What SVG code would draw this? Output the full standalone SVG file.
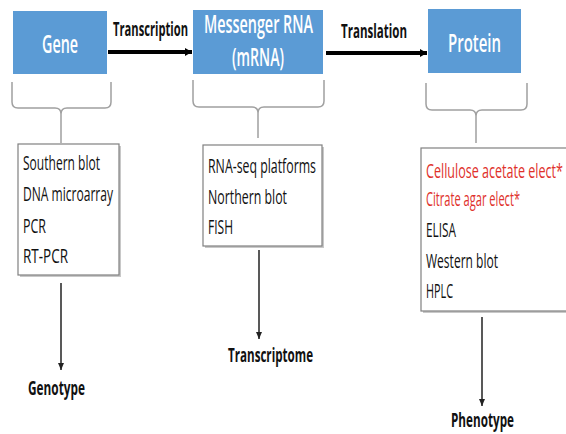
<svg xmlns="http://www.w3.org/2000/svg" width="566" height="434" viewBox="0 0 566 434">
<style>
.hdr{fill:#5b9bd5;}
.ht{font-family:"Open Sans","Liberation Sans",sans-serif;font-size:25px;font-weight:600;fill:#ffffff;}
.lbl{font-family:"Open Sans","Liberation Sans",sans-serif;font-size:19px;font-weight:700;fill:#111111;}
.it{font-family:"Open Sans","Liberation Sans",sans-serif;font-size:19.5px;font-weight:500;fill:#111111;}
.red{fill:#e0312b;}
.lbox{fill:#ffffff;stroke:#808080;stroke-width:1.2;}
.shadow{fill:#c8c8c8;}
.brace{fill:none;stroke:#a0a0a0;stroke-width:1.5;}
.thick{stroke:#000000;stroke-width:4;fill:none;}
.thin{stroke:#222222;stroke-width:1.5;fill:none;}
</style>
<defs>
<marker id="ah" markerUnits="userSpaceOnUse" markerWidth="8" markerHeight="10" refX="7" refY="5" orient="auto">
<path d="M0,1 L7,5 L0,9 Z" fill="#000"/>
</marker>
<marker id="ahs" markerUnits="userSpaceOnUse" markerWidth="8" markerHeight="8" refX="7" refY="4" orient="auto">
<path d="M0,1 L7,4 L0,7 Z" fill="#222"/>
</marker>
</defs>
<rect width="566" height="434" fill="#ffffff"/>

<g id="gene">
<rect class="hdr" x="13" y="11" width="94" height="63"/>
<text class="ht" transform="translate(60,53) scale(0.6,1)" text-anchor="middle" textLength="60" lengthAdjust="spacingAndGlyphs">Gene</text>
</g>
<g id="mrna">
<rect class="hdr" x="193" y="10" width="130" height="64"/>
<text class="ht" transform="translate(258.5,33) scale(0.6,1)" text-anchor="middle" textLength="181.7" lengthAdjust="spacingAndGlyphs">Messenger RNA</text>
<text class="ht" transform="translate(258,66) scale(0.6,1)" text-anchor="middle" textLength="86.7" lengthAdjust="spacingAndGlyphs">(mRNA)</text>
</g>
<g id="protein">
<rect class="hdr" x="428" y="9" width="93" height="64"/>
<text class="ht" transform="translate(474.5,52) scale(0.6,1)" text-anchor="middle" textLength="88.3" lengthAdjust="spacingAndGlyphs">Protein</text>
</g>

<g id="gene-methods">
<rect class="shadow" x="20" y="146" width="101" height="131"/>
<rect class="lbox" x="18" y="144" width="101" height="131"/>
<text class="it" transform="translate(23,170) scale(0.6,1)" textLength="128.3" lengthAdjust="spacingAndGlyphs">Southern blot</text>
<text class="it" transform="translate(23,201) scale(0.6,1)" textLength="150" lengthAdjust="spacingAndGlyphs">DNA microarray</text>
<text class="it" transform="translate(23,233) scale(0.6,1)" textLength="38.3" lengthAdjust="spacingAndGlyphs">PCR</text>
<text class="it" transform="translate(23,263) scale(0.6,1)" textLength="75" lengthAdjust="spacingAndGlyphs">RT-PCR</text>
</g>
<g id="mrna-methods">
<rect class="shadow" x="205" y="147" width="119" height="101"/>
<rect class="lbox" x="203" y="145" width="119" height="101"/>
<text class="it" transform="translate(208,173) scale(0.6,1)" textLength="180" lengthAdjust="spacingAndGlyphs">RNA-seq platforms</text>
<text class="it" transform="translate(208,204) scale(0.6,1)" textLength="131.7" lengthAdjust="spacingAndGlyphs">Northern blot</text>
<text class="it" transform="translate(208,234) scale(0.6,1)" textLength="41.7" lengthAdjust="spacingAndGlyphs">FISH</text>
</g>
<g id="protein-methods">
<rect class="shadow" x="423" y="150" width="150" height="163"/>
<rect class="lbox" x="421" y="148" width="150" height="163"/>
<text class="it red" transform="translate(426,178) scale(0.6,1)" textLength="228.3" lengthAdjust="spacingAndGlyphs">Cellulose acetate elect*</text>
<text class="it red" transform="translate(426,206) scale(0.6,1)" textLength="156.7" lengthAdjust="spacingAndGlyphs">Citrate agar elect*</text>
<text class="it" transform="translate(426,237) scale(0.6,1)" textLength="50" lengthAdjust="spacingAndGlyphs">ELISA</text>
<text class="it" transform="translate(426,268) scale(0.6,1)" textLength="120" lengthAdjust="spacingAndGlyphs">Western blot</text>
<text class="it" transform="translate(426,298) scale(0.6,1)" textLength="45" lengthAdjust="spacingAndGlyphs">HPLC</text>
</g>

<g id="genotype"><text class="lbl" transform="translate(28,395) scale(0.6,1)" textLength="95" lengthAdjust="spacingAndGlyphs">Genotype</text></g>
<g id="transcriptome"><text class="lbl" transform="translate(228,362) scale(0.6,1)" textLength="141.7" lengthAdjust="spacingAndGlyphs">Transcriptome</text></g>
<g id="phenotype"><text class="lbl" transform="translate(451,427) scale(0.6,1)" textLength="105" lengthAdjust="spacingAndGlyphs">Phenotype</text></g>

<g id="connectors">
<path class="thick" d="M108,52 L192,52" marker-end="url(#ah)"/>
<text class="lbl" transform="translate(113,36) scale(0.6,1)" textLength="125" lengthAdjust="spacingAndGlyphs">Transcription</text>
<path class="thick" d="M326,53 L427,53" marker-end="url(#ah)"/>
<text class="lbl" transform="translate(341,38) scale(0.6,1)" textLength="110" lengthAdjust="spacingAndGlyphs">Translation</text>

<path class="brace" d="M12,82 L12,102 Q12,108 18,108 L55,108 Q61,108 61,114 Q61,108 67,108 L105,108 Q111,108 111,102 L111,82 M61,114 L61,143"/>
<path class="brace" d="M193,80 L193,101 Q193,107 199,107 L252,107 Q258,107 258,113 Q258,107 264,107 L318,107 Q324,107 324,101 L324,80 M258,113 L258,138"/>
<path class="brace" d="M426,83 L426,104 Q426,110 432,110 L470,110 Q476,110 476,116 Q476,110 482,110 L521,110 Q527,110 527,104 L527,83 M476,116 L476,143"/>

<path class="thin" d="M61,283 L61,370" marker-end="url(#ahs)"/>
<path class="thin" d="M259,250 L259,339" marker-end="url(#ahs)"/>
<path class="thin" d="M482,317 L482,406" marker-end="url(#ahs)"/>
</g>
</svg>
